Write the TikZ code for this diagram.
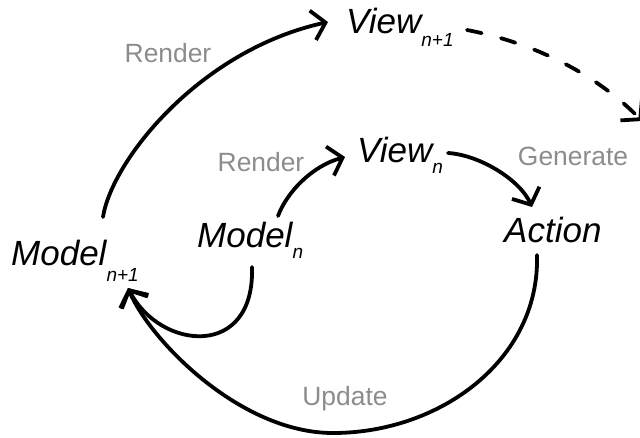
\documentclass[tikz,border=0pt]{standalone}
\usepackage{fontspec}
\setmainfont{Liberation Sans}
\usetikzlibrary{arrows.meta}
\definecolor{lblgray}{RGB}{140,140,140}
\newcommand{\lowidx}[2]{\raisebox{-#1pt}{\fontsize{19}{22}\selectfont #2}}
\tikzset{
  term/.style={anchor=base west,inner sep=0pt,font=\fontsize{35}{40}\selectfont\itshape},
  verb/.style={anchor=base,inner sep=0pt,text=lblgray,font=\fontsize{26.4}{30}\selectfont},
  flow/.style={line width=3.8pt,line cap=round,line join=round,-{Straight Barb[length=13pt,width=30pt]}}
}
\begin{document}
\begin{tikzpicture}[x=1pt,y=-1pt]
\useasboundingbox (0,0) rectangle (640,437);

\node[term] (mnp) at (11,265) {Model\lowidx{16}{n+1}};
\node[term] (mn) at (197,247) {Model\lowidx{11}{n}};
\node[term] (vn) at (357,162) {View\lowidx{11}{n}};
\node[term] (vnp) at (346,33) {View\lowidx{13}{n+1}};
\node[term] (act) at (504,242) {Action};

\node[verb] (rtop) at (168,62) {Render};
\node[verb] (rmid) at (261,171) {Render};
\node[verb] (gen) at (573,165) {Generate};
\node[verb] (upd) at (345,405) {Update};

% render arcs
\draw[flow] ([shift={(92,-48)}]mnp.base west) .. controls (112,160) and (200,50) .. ([shift={(-18,-11)}]vnp.base west);
\draw[flow] ([shift={(81,-31)}]mn.base west) .. controls (287,192) and (312,166) .. ([shift={(-12,-5)}]vn.base west);
% generate
\draw[flow] ([shift={(91,-9)}]vn.base west) .. controls (480,155) and (520,180) .. ([shift={(28,-35)}]act.base west);
% update
\draw[flow] ([shift={(33,13)}]act.base west) .. controls (540,360) and (440,433) .. (333,433)
  .. controls (240,433) and (150,340) .. ([shift={(117,23)}]mnp.base west);
\draw[flow] ([shift={(55,20)}]mn.base west) .. controls (255,360) and (160,350) .. ([shift={(117,23)}]mnp.base west);

% next step, at the page edge
\coordinate (off) at (642,121);
\draw[flow,dash pattern=on 15pt off 20pt] ([shift={(121,-3)}]vnp.base west) .. controls (540,44) and (600,78) .. (off);
\end{tikzpicture}
\end{document}
